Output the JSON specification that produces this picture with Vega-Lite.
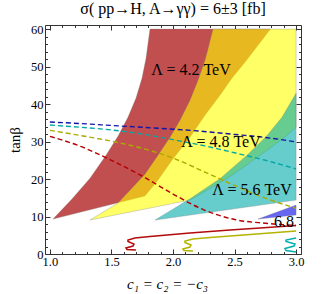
{
  "$schema": "https://vega.github.io/schema/vega-lite/v6.json",
  "width": 256,
  "height": 229,
  "autosize": "none",
  "padding": {"left": 45, "top": 25, "right": 26, "bottom": 40},
  "background": "white",
  "title": {"text": "σ( pp→H, A→γγ) = 6±3 [fb]", "font": "Liberation Serif", "fontSize": 16, "fontWeight": "normal", "color": "black", "offset": 6, "anchor": "middle"},
  "config": {"view": {"stroke": "#333", "strokeWidth": 1}, "font": "Liberation Serif"},
  "datasets": {
    "bands": [
      {"band": "red", "i": 0, "x": 1.025, "y": 9.32},
      {"band": "red", "i": 1, "x": 1.179, "y": 14.65},
      {"band": "red", "i": 2, "x": 1.326, "y": 20.24},
      {"band": "red", "i": 3, "x": 1.456, "y": 26.37},
      {"band": "red", "i": 4, "x": 1.553, "y": 31.43},
      {"band": "red", "i": 5, "x": 1.634, "y": 36.49},
      {"band": "red", "i": 6, "x": 1.699, "y": 41.56},
      {"band": "red", "i": 7, "x": 1.748, "y": 46.88},
      {"band": "red", "i": 8, "x": 1.781, "y": 52.21},
      {"band": "red", "i": 9, "x": 1.813, "y": 60},
      {"band": "red", "i": 10, "x": 2.792, "y": 60},
      {"band": "red", "i": 11, "x": 2.691, "y": 55.67},
      {"band": "red", "i": 12, "x": 2.585, "y": 51.15},
      {"band": "red", "i": 13, "x": 2.479, "y": 46.88},
      {"band": "red", "i": 14, "x": 2.382, "y": 42.35},
      {"band": "red", "i": 15, "x": 2.26, "y": 37.03},
      {"band": "red", "i": 16, "x": 2.138, "y": 31.17},
      {"band": "red", "i": 17, "x": 1.992, "y": 25.04},
      {"band": "red", "i": 18, "x": 1.878, "y": 19.71},
      {"band": "red", "i": 19, "x": 1.772, "y": 15.45},
      {"band": "red", "i": 20, "x": 1.025, "y": 9.32},
      {"band": "yellow", "i": 0, "x": 1.326, "y": 9.06},
      {"band": "yellow", "i": 1, "x": 1.553, "y": 13.59},
      {"band": "yellow", "i": 2, "x": 1.667, "y": 17.58},
      {"band": "yellow", "i": 3, "x": 1.772, "y": 21.31},
      {"band": "yellow", "i": 4, "x": 1.878, "y": 26.37},
      {"band": "yellow", "i": 5, "x": 1.976, "y": 31.17},
      {"band": "yellow", "i": 6, "x": 2.057, "y": 35.7},
      {"band": "yellow", "i": 7, "x": 2.138, "y": 41.02},
      {"band": "yellow", "i": 8, "x": 2.203, "y": 46.35},
      {"band": "yellow", "i": 9, "x": 2.26, "y": 51.68},
      {"band": "yellow", "i": 10, "x": 2.292, "y": 55.67},
      {"band": "yellow", "i": 11, "x": 2.325, "y": 60},
      {"band": "yellow", "i": 12, "x": 3.0, "y": 60},
      {"band": "yellow", "i": 13, "x": 3.0, "y": 33.8},
      {"band": "yellow", "i": 14, "x": 2.918, "y": 31.43},
      {"band": "yellow", "i": 15, "x": 2.778, "y": 28},
      {"band": "yellow", "i": 16, "x": 2.609, "y": 24},
      {"band": "yellow", "i": 17, "x": 2.445, "y": 20.24},
      {"band": "yellow", "i": 18, "x": 2.276, "y": 17},
      {"band": "yellow", "i": 19, "x": 2.138, "y": 14.38},
      {"band": "yellow", "i": 20, "x": 1.326, "y": 9.06},
      {"band": "cyan", "i": 0, "x": 1.854, "y": 9.06},
      {"band": "cyan", "i": 1, "x": 2.002, "y": 12},
      {"band": "cyan", "i": 2, "x": 2.151, "y": 15},
      {"band": "cyan", "i": 3, "x": 2.387, "y": 20.24},
      {"band": "cyan", "i": 4, "x": 2.602, "y": 26.37},
      {"band": "cyan", "i": 5, "x": 2.76, "y": 31.43},
      {"band": "cyan", "i": 6, "x": 2.886, "y": 36.49},
      {"band": "cyan", "i": 7, "x": 3.0, "y": 42.9},
      {"band": "cyan", "i": 8, "x": 3.0, "y": 14.38},
      {"band": "cyan", "i": 9, "x": 1.854, "y": 9.06},
      {"band": "blue", "i": 0, "x": 2.691, "y": 9.32},
      {"band": "blue", "i": 1, "x": 3.0, "y": 13.05},
      {"band": "blue", "i": 2, "x": 3.0, "y": 10.39},
      {"band": "blue", "i": 3, "x": 2.691, "y": 9.32}
    ],
    "dashed": [
      {"s": "blue", "x": 1.0, "y": 35.2}, {"s": "blue", "x": 1.25, "y": 34.8}, {"s": "blue", "x": 1.5, "y": 34.3}, {"s": "blue", "x": 1.75, "y": 33.8}, {"s": "blue", "x": 2.0, "y": 33.3}, {"s": "blue", "x": 2.25, "y": 32.7}, {"s": "blue", "x": 2.5, "y": 31.9}, {"s": "blue", "x": 2.75, "y": 31.1}, {"s": "blue", "x": 3.0, "y": 29.9},
      {"s": "cyan", "x": 1.0, "y": 34.4}, {"s": "cyan", "x": 1.25, "y": 33.8}, {"s": "cyan", "x": 1.5, "y": 33.1}, {"s": "cyan", "x": 1.75, "y": 32.0}, {"s": "cyan", "x": 2.0, "y": 30.5}, {"s": "cyan", "x": 2.25, "y": 28.9}, {"s": "cyan", "x": 2.5, "y": 27.0}, {"s": "cyan", "x": 2.75, "y": 25.0}, {"s": "cyan", "x": 3.0, "y": 22.7},
      {"s": "yellow", "x": 1.0, "y": 33.0}, {"s": "yellow", "x": 1.25, "y": 31.6}, {"s": "yellow", "x": 1.5, "y": 30.1}, {"s": "yellow", "x": 1.75, "y": 28.2}, {"s": "yellow", "x": 2.0, "y": 25.6}, {"s": "yellow", "x": 2.25, "y": 22.0}, {"s": "yellow", "x": 2.5, "y": 18.3}, {"s": "yellow", "x": 2.75, "y": 14.9}, {"s": "yellow", "x": 3.0, "y": 12.2},
      {"s": "red", "x": 1.0, "y": 31.4}, {"s": "red", "x": 1.25, "y": 28.7}, {"s": "red", "x": 1.5, "y": 25.0}, {"s": "red", "x": 1.75, "y": 20.8}, {"s": "red", "x": 2.0, "y": 16.0}, {"s": "red", "x": 2.25, "y": 11.8}, {"s": "red", "x": 2.5, "y": 9.2}, {"s": "red", "x": 2.75, "y": 8.2}, {"s": "red", "x": 3.0, "y": 7.6}
    ],
    "solid": [
      {"s": "red", "i": 0, "x": 1.699, "y": 1.07}, {"s": "red", "i": 1, "x": 1.626, "y": 1.2}, {"s": "red", "i": 2, "x": 1.618, "y": 1.6}, {"s": "red", "i": 3, "x": 1.675, "y": 2.13}, {"s": "red", "i": 4, "x": 1.683, "y": 2.66}, {"s": "red", "i": 5, "x": 1.634, "y": 3.33}, {"s": "red", "i": 6, "x": 1.634, "y": 3.73}, {"s": "red", "i": 7, "x": 1.691, "y": 4.26}, {"s": "red", "i": 8, "x": 1.813, "y": 4.66}, {"s": "red", "i": 9, "x": 2.138, "y": 5.59}, {"s": "red", "i": 10, "x": 2.463, "y": 6.39}, {"s": "red", "i": 11, "x": 2.707, "y": 6.93}, {"s": "red", "i": 12, "x": 3.0, "y": 7.59},
      {"s": "yellow", "i": 0, "x": 2.162, "y": 0.8}, {"s": "yellow", "i": 1, "x": 2.089, "y": 0.93}, {"s": "yellow", "i": 2, "x": 2.081, "y": 1.33}, {"s": "yellow", "i": 3, "x": 2.138, "y": 1.86}, {"s": "yellow", "i": 4, "x": 2.146, "y": 2.4}, {"s": "yellow", "i": 5, "x": 2.097, "y": 3.06}, {"s": "yellow", "i": 6, "x": 2.097, "y": 3.46}, {"s": "yellow", "i": 7, "x": 2.162, "y": 4.0}, {"s": "yellow", "i": 8, "x": 2.301, "y": 4.4}, {"s": "yellow", "i": 9, "x": 2.626, "y": 5.19}, {"s": "yellow", "i": 10, "x": 3.0, "y": 6.13},
      {"s": "cyan", "i": 0, "x": 3.0, "y": 0.53}, {"s": "cyan", "i": 1, "x": 2.918, "y": 0.93}, {"s": "cyan", "i": 2, "x": 2.91, "y": 1.47}, {"s": "cyan", "i": 3, "x": 2.983, "y": 2.13}, {"s": "cyan", "i": 4, "x": 2.991, "y": 2.66}, {"s": "cyan", "i": 5, "x": 2.918, "y": 3.33}, {"s": "cyan", "i": 6, "x": 2.918, "y": 3.73}, {"s": "cyan", "i": 7, "x": 3.0, "y": 4.26}
    ],
    "labels": [
      {"t": "Λ = 4.2 TeV", "x": 2.146, "y": 49.0},
      {"t": "Λ = 4.8 TeV", "x": 2.39, "y": 29.8},
      {"t": "Λ = 5.6 TeV", "x": 2.642, "y": 17.0},
      {"t": "6.8", "x": 2.902, "y": 8.5}
    ]
  },
  "resolve": {"scale": {"color": "independent"}, "axis": {"x": "independent", "y": "independent"}},
  "layer": [
    {
      "data": {"name": "bands"},
      "transform": [{"filter": "datum.band === 'red'"}],
      "mark": {"type": "line", "filled": true, "fill": "#c24f4f", "stroke": "#777", "strokeWidth": 0.5, "strokeOpacity": 0.6},
      "encoding": {
        "x": {"field": "x", "type": "quantitative", "scale": {"domain": [0.96, 3.04], "nice": false, "zero": false},
          "axis": {"orient": "bottom", "values": [1.0, 1.1, 1.2, 1.3, 1.4, 1.5, 1.6, 1.7, 1.8, 1.9, 2.0, 2.1, 2.2, 2.3, 2.4, 2.5, 2.6, 2.7, 2.8, 2.9, 3.0],
            "labelExpr": "abs(datum.value*2 - round(datum.value*2)) < 0.001 ? format(datum.value, '.1f') : ''",
            "tickSize": {"condition": {"test": "abs(datum.value*2 - round(datum.value*2)) < 0.001", "value": -5}, "value": -2.5},
            "tickColor": "#333", "domain": false, "grid": false, "labelFlush": false, "labelOverlap": false,
            "labelFont": "Liberation Serif", "labelFontSize": 12.5, "labelColor": "black", "labelPadding": 6,
            "title": "c₁ = c₂ = −c₃", "titleX": 122, "titleFont": "Liberation Serif", "titleFontSize": 15, "titleFontStyle": "italic", "titleFontWeight": "normal", "titleColor": "black", "titlePadding": 6}},
        "y": {"field": "y", "type": "quantitative", "scale": {"domain": [0, 61.1], "nice": false, "zero": false},
          "axis": {"orient": "left", "values": [0, 2, 4, 6, 8, 10, 12, 14, 16, 18, 20, 22, 24, 26, 28, 30, 32, 34, 36, 38, 40, 42, 44, 46, 48, 50, 52, 54, 56, 58, 60],
            "labelExpr": "datum.value % 10 === 0 ? datum.label : ''",
            "tickSize": {"condition": {"test": "datum.value % 10 === 0", "value": -5}, "value": -2.5},
            "tickColor": "#333", "domain": false, "grid": false, "labelFlush": false, "labelOverlap": false,
            "labelFont": "Liberation Serif", "labelFontSize": 12.5, "labelColor": "black", "labelPadding": 7,
            "title": "tanβ", "titleFont": "Liberation Serif", "titleFontSize": 15, "titleFontWeight": "normal", "titleColor": "black", "titlePadding": 8}},
        "order": {"field": "i", "type": "quantitative"}
      }
    },
    {
      "data": {"name": "bands"},
      "transform": [{"filter": "datum.band === 'yellow'"}],
      "mark": {"type": "line", "filled": true, "fill": "#ffff00", "fillOpacity": 0.6, "stroke": "#777", "strokeWidth": 0.5, "strokeOpacity": 0.6},
      "encoding": {
        "x": {"field": "x", "type": "quantitative", "scale": {"domain": [0.96, 3.04], "nice": false, "zero": false},
          "axis": {"orient": "top", "values": [1.0, 1.1, 1.2, 1.3, 1.4, 1.5, 1.6, 1.7, 1.8, 1.9, 2.0, 2.1, 2.2, 2.3, 2.4, 2.5, 2.6, 2.7, 2.8, 2.9, 3.0],
            "labels": false, "title": null,
            "tickSize": {"condition": {"test": "abs(datum.value*2 - round(datum.value*2)) < 0.001", "value": -5}, "value": -2.5},
            "tickColor": "#333", "domain": false, "grid": false}},
        "y": {"field": "y", "type": "quantitative", "scale": {"domain": [0, 61.1], "nice": false, "zero": false},
          "axis": {"orient": "right", "values": [0, 2, 4, 6, 8, 10, 12, 14, 16, 18, 20, 22, 24, 26, 28, 30, 32, 34, 36, 38, 40, 42, 44, 46, 48, 50, 52, 54, 56, 58, 60],
            "labels": false, "title": null,
            "tickSize": {"condition": {"test": "datum.value % 10 === 0", "value": -5}, "value": -2.5},
            "tickColor": "#333", "domain": false, "grid": false}},
        "order": {"field": "i", "type": "quantitative"}
      }
    },
    {
      "data": {"name": "bands"},
      "transform": [{"filter": "datum.band === 'cyan'"}],
      "mark": {"type": "line", "filled": true, "fill": "#00aaaa", "fillOpacity": 0.6, "stroke": "#777", "strokeWidth": 0.5, "strokeOpacity": 0.6},
      "encoding": {
        "x": {"field": "x", "type": "quantitative", "scale": {"domain": [0.96, 3.04], "nice": false, "zero": false}, "axis": null},
        "y": {"field": "y", "type": "quantitative", "scale": {"domain": [0, 61.1], "nice": false, "zero": false}, "axis": null},
        "order": {"field": "i", "type": "quantitative"}
      }
    },
    {
      "data": {"name": "bands"},
      "transform": [{"filter": "datum.band === 'blue'"}],
      "mark": {"type": "line", "filled": true, "fill": "#0000e6", "fillOpacity": 0.6, "stroke": "#777", "strokeWidth": 0.5, "strokeOpacity": 0.6},
      "encoding": {
        "x": {"field": "x", "type": "quantitative", "scale": {"domain": [0.96, 3.04], "nice": false, "zero": false}, "axis": null},
        "y": {"field": "y", "type": "quantitative", "scale": {"domain": [0, 61.1], "nice": false, "zero": false}, "axis": null},
        "order": {"field": "i", "type": "quantitative"}
      }
    },
    {
      "data": {"name": "dashed"},
      "mark": {"type": "line", "strokeWidth": 1.4, "strokeDash": [5, 3], "interpolate": "monotone"},
      "encoding": {
        "x": {"field": "x", "type": "quantitative", "scale": {"domain": [0.96, 3.04], "nice": false, "zero": false}, "axis": null},
        "y": {"field": "y", "type": "quantitative", "scale": {"domain": [0, 61.1], "nice": false, "zero": false}, "axis": null},
        "color": {"field": "s", "type": "nominal", "legend": null, "scale": {"domain": ["blue", "cyan", "yellow", "red"], "range": ["#1414a8", "#00a8a8", "#aaaa00", "#b40000"]}}
      }
    },
    {
      "data": {"name": "solid"},
      "mark": {"type": "line", "strokeWidth": 1.5},
      "encoding": {
        "x": {"field": "x", "type": "quantitative", "scale": {"domain": [0.96, 3.04], "nice": false, "zero": false}, "axis": null},
        "y": {"field": "y", "type": "quantitative", "scale": {"domain": [0, 61.1], "nice": false, "zero": false}, "axis": null},
        "order": {"field": "i", "type": "quantitative"},
        "color": {"field": "s", "type": "nominal", "legend": null, "scale": {"domain": ["red", "yellow", "cyan"], "range": ["#b40a0a", "#b4b400", "#00b0b0"]}}
      }
    },
    {
      "data": {"name": "labels"},
      "mark": {"type": "text", "font": "Liberation Serif", "fontSize": 16, "color": "black", "align": "center", "baseline": "middle"},
      "encoding": {
        "x": {"field": "x", "type": "quantitative", "scale": {"domain": [0.96, 3.04], "nice": false, "zero": false}, "axis": null},
        "y": {"field": "y", "type": "quantitative", "scale": {"domain": [0, 61.1], "nice": false, "zero": false}, "axis": null},
        "text": {"field": "t", "type": "nominal"}
      }
    }
  ]
}
